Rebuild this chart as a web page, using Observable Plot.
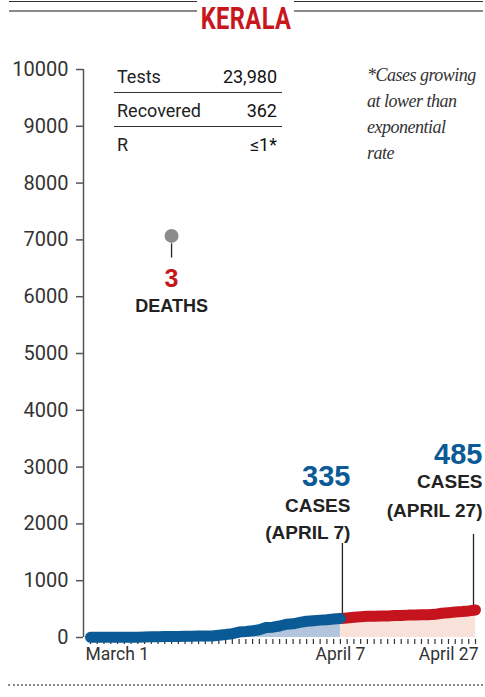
<!DOCTYPE html>
<html>
<head>
<meta charset="utf-8">
<script src="https://cdn.jsdelivr.net/npm/d3@7"></script>
<script src="https://cdn.jsdelivr.net/npm/@observablehq/plot@0.6"></script>
<style>
  body { margin: 0; background: #fff; font-family: Roboto, "Liberation Sans", sans-serif; color: #222; }
  #page { position: relative; width: 485px; height: 697px; overflow: hidden; background: #fff; }
  #header { position: relative; height: 40px; }
  .hl1 { position: absolute; top: 1px; height: 0; border-top: 1.2px solid #333; }
  .hl2 { position: absolute; top: 10px; height: 0; border-top: 2px solid #8a8a8a; }
  #title { position: absolute; left: 246px; top: 0px; font: bold 32px/1.172 Roboto, sans-serif; color: #c8161d;
           transform: translateX(-50%) scaleX(0.74); white-space: nowrap; letter-spacing: 0.5px; }
  #chart svg { display: block; }
  .trow { position: absolute; left: 117px; width: 160px; display: flex; justify-content: space-between;
          font: 18px/18px Roboto, sans-serif; color: #222; }
  .trow span:last-child { color: #111; }
  .tline { position: absolute; left: 114px; width: 168px; height: 0; border-top: 1.5px solid #333; }
  #note { position: absolute; left: 367px; top: 62px; font: italic 18px/26px "Liberation Serif", serif; color: #333; letter-spacing: -0.5px; }
  #footer { position: absolute; left: 8px; top: 684px; width: 475px; height: 0; border-top: 2px dotted #888; }
  g[aria-label="bignum"] text { letter-spacing: 2.5px; }
  g[aria-label="caselabel"] text { letter-spacing: 1.4px; }
  g[aria-label="deathlabel"] text { letter-spacing: 1.2px; }
  g[aria-label="xlabel"] text { letter-spacing: -0.3px; }
</style>
</head>
<body>
<div id="page">
  <div id="header">
    <div class="hl1" style="left:9px;width:188px"></div>
    <div class="hl2" style="left:9px;width:188px"></div>
    <div class="hl1" style="left:294px;width:189px"></div>
    <div class="hl2" style="left:294px;width:189px"></div>
    <div id="title">KERALA</div>
  </div>
  <div id="chart"></div>
  <div id="table"></div>
  <div id="note"></div>
  <div id="footer"></div>
</div>
<script>
// ---- data ----
const title = "KERALA";
// cumulative confirmed cases, March 1 .. April 27, 2020 (one value per day)
const cases = [
  3, 3, 3, 3, 3, 3, 3,
  6, 9, 12, 14, 17, 19, 19,
  22, 24, 25, 27, 28, 40, 52,
  67, 95, 105, 118, 137, 176, 182,
  202, 234, 241,
  265, 286, 295, 306, 314, 327, 335,
  345, 357, 364, 373, 375, 378, 379,
  386, 387, 394, 396, 399, 402, 408,
  426, 437, 450, 457, 468, 485
];
const startDate = new Date(Date.UTC(2020, 2, 1));
const splitDate = new Date(Date.UTC(2020, 3, 7));
const endDate = new Date(Date.UTC(2020, 3, 27));
const yTicks = [0, 1000, 2000, 3000, 4000, 5000, 6000, 7000, 8000, 9000, 10000];
const xLabelDates = [startDate, splitDate, endDate];
const xLabelTexts = ["March 1", "April 7", "April 27"];
const tableLabels = ["Tests", "Recovered", "R"];
const tableValues = ["23,980", "362", "≤1*"];
const noteLines = ["*Cases growing", "at lower than", "exponential", "rate"];
const deaths = 3;
const deathAnchorDate = new Date(Date.UTC(2020, 2, 13));
const deathAnchorY = 7070;
const caseNotes = [
  {date: splitDate, value: 335, label: "(APRIL 7)"},
  {date: endDate, value: 485, label: "(APRIL 27)"}
];

// ---- build ----
const dates = cases.map((_, i) => new Date(Date.UTC(2020, 2, 1 + i)));
const data = dates.map((date, i) => ({date, cases: cases[i]}));
const blueData = data.filter(d => d.date <= splitDate);
const redData = data.filter(d => d.date >= splitDate);

const BLUE = "#0a5a96", RED = "#c5141d", BLUEFILL = "#b2c5dc", REDFILL = "#f9e2d9";
const SANS_B = "Liberation Sans, Arial, sans-serif";

const n7 = caseNotes[0], n27 = caseNotes[1];

const plot = Plot.plot({
  width: 485,
  height: 636,
  marginLeft: 83,
  marginRight: 10,
  marginTop: 29,
  marginBottom: 39,
  style: {fontFamily: "Roboto, sans-serif", fontSize: "17px", color: "#333", background: "transparent", overflow: "visible"},
  x: {type: "utc", domain: [startDate, endDate], range: [90, 475]},
  y: {domain: [0, 10000]},
  marks: [
    Plot.areaY(blueData, {x: "date", y: "cases", fill: BLUEFILL}),
    Plot.areaY(redData, {x: "date", y: "cases", fill: REDFILL}),
    Plot.axisX({ticks: dates, tickSize: 5, dy: 2, tickFormat: () => "", stroke: "#333", strokeWidth: 1.2, label: null}),
    Plot.ruleX([startDate], {dx: -7, stroke: "#555", strokeWidth: 1.5}),
    Plot.axisY({ticks: yTicks, tickSize: 7, tickPadding: 8, tickFormat: d => String(d), fontSize: 20,
                fill: "#333", stroke: "#555", strokeWidth: 1.5, label: null}),
    // x labels
    Plot.text([0], {x: () => xLabelDates[0], text: () => xLabelTexts[0], frameAnchor: "bottom", dy: 22, dx: -5, textAnchor: "start", fontSize: 17.5, fill: "#333", ariaLabel: "xlabel"}),
    Plot.text([1], {x: () => xLabelDates[1], text: () => xLabelTexts[1], frameAnchor: "bottom", dy: 22, textAnchor: "middle", fontSize: 17.5, fill: "#333", ariaLabel: "xlabel"}),
    Plot.text([2], {x: () => xLabelDates[2], text: () => xLabelTexts[2], frameAnchor: "bottom", dy: 22, dx: 3, textAnchor: "end", fontSize: 17.5, fill: "#333", ariaLabel: "xlabel"}),
    // case stems
    Plot.ruleX([n7], {x: "date", y1: d => d.value, y2: d => d.value + 1320, dx: 2, stroke: "#222", strokeWidth: 1.3}),
    Plot.ruleX([n27], {x: "date", y1: d => d.value, y2: d => d.value + 1330, dx: -2, stroke: "#222", strokeWidth: 1.3}),
    // lines
    Plot.lineY(redData, {x: "date", y: "cases", stroke: RED, strokeWidth: 11, strokeLinecap: "round", strokeLinejoin: "round"}),
    Plot.lineY(blueData, {x: "date", y: "cases", stroke: BLUE, strokeWidth: 11, strokeLinecap: "round", strokeLinejoin: "round"}),
    // case annotations
    Plot.text([n7], {x: "date", y: "value", text: d => String(d.value), dx: 10, dy: -141.5, textAnchor: "end", fontSize: 29, fontWeight: "bold", fontFamily: SANS_B, fill: BLUE, ariaLabel: "bignum"}),
    Plot.text([n7], {x: "date", y: "value", text: () => "CASES", dx: 10, dy: -112.5, textAnchor: "end", fontSize: 19, fontWeight: "bold", fontFamily: SANS_B, fill: "#222", ariaLabel: "caselabel"}),
    Plot.text([n7], {x: "date", y: "value", text: "label", dx: 10, dy: -85.5, textAnchor: "end", fontSize: 19, fontWeight: "bold", fontFamily: SANS_B, fill: "#222", ariaLabel: "caselabel"}),
    Plot.text([n27], {x: "date", y: "value", text: d => String(d.value), dx: 7, dy: -155.5, textAnchor: "end", fontSize: 29, fontWeight: "bold", fontFamily: SANS_B, fill: BLUE, ariaLabel: "bignum"}),
    Plot.text([n27], {x: "date", y: "value", text: () => "CASES", dx: 7, dy: -128.5, textAnchor: "end", fontSize: 19, fontWeight: "bold", fontFamily: SANS_B, fill: "#222", ariaLabel: "caselabel"}),
    Plot.text([n27], {x: "date", y: "value", text: "label", dx: 7, dy: -99, textAnchor: "end", fontSize: 19, fontWeight: "bold", fontFamily: SANS_B, fill: "#222", ariaLabel: "caselabel"}),
    // deaths annotation
    Plot.ruleX([deathAnchorDate], {y1: deathAnchorY - 140, y2: deathAnchorY - 390, stroke: "#222", strokeWidth: 1.3}),
    Plot.dot([deathAnchorDate], {x: d => d, y: () => deathAnchorY, r: 7, fill: "#8c8c8c", stroke: null}),
    Plot.text([deaths], {x: () => deathAnchorDate, y: () => deathAnchorY, text: d => String(d), dy: 43, fontSize: 25, fontWeight: "bold", fontFamily: SANS_B, fill: "#c8161d"}),
    Plot.text(["DEATHS"], {x: () => deathAnchorDate, y: () => deathAnchorY, text: d => d, dy: 70, fontSize: 18, fontWeight: "bold", fontFamily: SANS_B, fill: "#222", ariaLabel: "deathlabel"})
  ]
});
document.getElementById("chart").appendChild(plot);
document.getElementById("title").textContent = title;

// table overlay
const tbl = document.getElementById("table");
const rowTops = [68, 102, 136];
const lineTops = [92, 126];
tableLabels.forEach((lab, i) => {
  const r = document.createElement("div");
  r.className = "trow";
  r.style.top = rowTops[i] + "px";
  const a = document.createElement("span"); a.textContent = lab;
  const b = document.createElement("span"); b.textContent = tableValues[i];
  r.appendChild(a); r.appendChild(b);
  tbl.appendChild(r);
});
lineTops.forEach(t => {
  const l = document.createElement("div");
  l.className = "tline";
  l.style.top = t + "px";
  tbl.appendChild(l);
});
document.getElementById("note").innerHTML = noteLines.join("<br>");
</script>
</body>
</html>
